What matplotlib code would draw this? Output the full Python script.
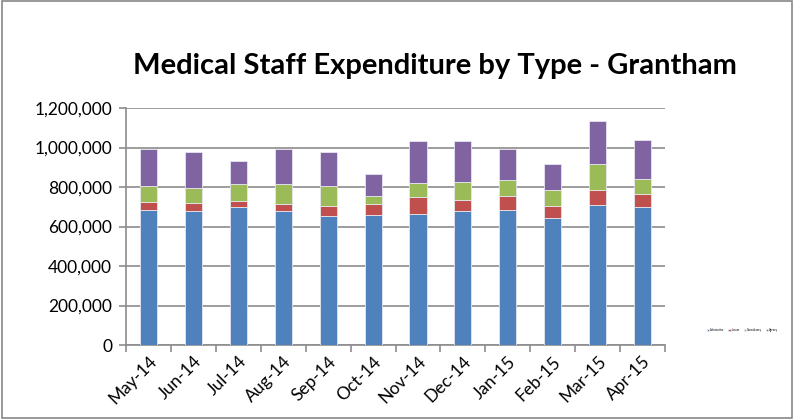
import numpy as np
import matplotlib.pyplot as plt
from matplotlib.patches import Rectangle

months = ['May-14', 'Jun-14', 'Jul-14', 'Aug-14', 'Sep-14', 'Oct-14',
          'Nov-14', 'Dec-14', 'Jan-15', 'Feb-15', 'Mar-15', 'Apr-15']

# values
substantive = [682000, 677000, 700000, 677000, 655000, 660000,
               665000, 677000, 682000, 641000, 707000, 697000]
locum = [44000, 40000, 31000, 35000, 50000, 52000,
         83000, 59000, 71000, 63000, 78000, 68000]
consultancy = [81000, 78000, 83000, 102000, 102000, 43000,
               72000, 89000, 84000, 81000, 130000, 77000]
agency = [184000, 184000, 118000, 177000, 172000, 113000,
          213000, 208000, 154000, 130000, 218000, 198000]

series = [('Substantive', substantive, '#4F81BD'),
          ('Locum', locum, '#C0504D'),
          ('Consultancy', consultancy, '#9BBB59'),
          ('Agency', agency, '#8064A2')]

plt.rcParams['font.family'] = ['Lato', 'DejaVu Sans']

fig = plt.figure(figsize=(7.94, 4.19), dpi=100)
ax = fig.add_axes([0.1587, 0.1766, 0.679, 0.5656])

x = np.arange(len(months))
bottom = np.zeros(len(months))
for name, vals, col in series:
    ax.bar(x, vals, 0.38, bottom=bottom, color=col, edgecolor='#E6E6EE',
           linewidth=0.6, label=name, zorder=3)
    bottom += np.array(vals)

ax.set_xlim(-0.5, len(months) - 0.5)
ax.set_ylim(0, 1200000)
ax.set_yticks(np.arange(0, 1200001, 200000))
ax.set_yticklabels(['{:,}'.format(v) for v in range(0, 1200001, 200000)], fontsize=12.5)
ax.yaxis.grid(True, color='#8C8C8C', linewidth=1.2, zorder=0)
ax.set_axisbelow(True)

ax.set_xticks(x)
ax.set_xticklabels(months, rotation=45, ha='right', rotation_mode='anchor', fontsize=12.5)
ax.tick_params(axis='x', length=0, pad=6)
ax.set_xticks(np.arange(-0.5, len(months), 1), minor=True)
ax.tick_params(axis='x', which='minor', length=5, color='#8C8C8C', width=1.2)
ax.tick_params(axis='y', length=5, color='#8C8C8C', width=1.2, pad=5)

for s in ['top', 'right']:
    ax.spines[s].set_visible(False)
for s in ['left', 'bottom']:
    ax.spines[s].set_color('#8C8C8C')
    ax.spines[s].set_linewidth(1.2)

fig.text(0.548, 0.843, 'Medical Staff Expenditure by Type - Grantham',
         ha='center', va='center', fontsize=21, fontweight='bold')

fig.legend(loc='center', bbox_to_anchor=(0.935, 0.213), ncol=4, fontsize=2,
           frameon=False, handlelength=0.8, handleheight=0.8,
           columnspacing=1.5, handletextpad=0.3)

fig.patches.append(Rectangle((0.002, 0.002), 0.996, 0.996, transform=fig.transFigure,
                             fill=False, edgecolor='#888888', linewidth=1.2))

fig.savefig('out.png', dpi=100)
